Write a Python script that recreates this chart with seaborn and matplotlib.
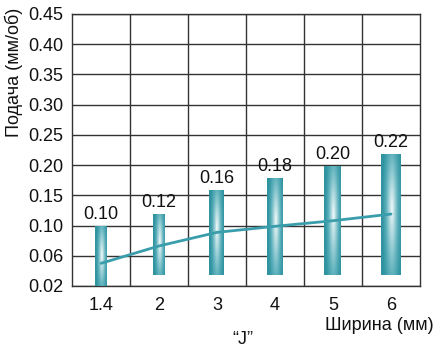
import numpy as np
import pandas as pd
import matplotlib
matplotlib.use("Agg")
import matplotlib.pyplot as plt
from matplotlib.colors import LinearSegmentedColormap
import seaborn as sns

# ---- data ----
widths_mm = ["1.4", "2", "3", "4", "5", "6"]
feed_max = [0.10, 0.12, 0.16, 0.18, 0.20, 0.22]
feed_min = [0.02, 0.035, 0.035, 0.035, 0.035, 0.035]
feed_recommended = [0.050, 0.073, 0.091, 0.099, 0.108, 0.119]
y_ticks = [0.02, 0.06, 0.10, 0.15, 0.20, 0.25, 0.30, 0.35, 0.40, 0.45]

# style (bar widths in category units)
bar_w = [0.22, 0.22, 0.26, 0.29, 0.31, 0.36]

sns.set_style("white")
plt.rcParams['font.family'] = ['Liberation Sans', 'DejaVu Sans']
FS = 13

fig = plt.figure(figsize=(4.37, 3.48), dpi=100)
ax = fig.add_axes([72/437, 1-286/348, (420-72)/437, (286-14)/348])

idx = np.arange(len(y_ticks), dtype=float)
tv = np.array(y_ticks)
def fwd(v):
    return np.interp(v, tv, idx)
def inv(p):
    return np.interp(p, idx, tv)
ax.set_yscale('function', functions=(fwd, inv))
ax.set_ylim(0.02, 0.45)
ax.set_xlim(-0.5, len(widths_mm) - 0.5)

xs = np.arange(len(widths_mm))
df = pd.DataFrame({"x": xs, "top": feed_max, "bot": feed_min, "rec": feed_recommended})

# gradient bars
cmap = LinearSegmentedColormap.from_list("tealgrad", ["#2f93a0", "#5cb0bb", "#a9d6dc", "#f2fafa"])
ny, nx = 200, 60
gy, gx = np.mgrid[-1:1:ny*1j, -1:1:nx*1j]
for x, t, b, w in zip(df["x"], df["top"], df["bot"], bar_w):
    r = np.sqrt(gx**2 + (gy*0.55)**2)
    val = np.clip(1 - r, 0, 1) ** 1.3
    ax.imshow(val, cmap=cmap, vmin=0, vmax=1, aspect='auto',
              extent=(x - w/2, x + w/2, b, t), origin='lower', zorder=3,
              interpolation='bilinear')
    ax.annotate(f"{t:.2f}", (x, t), xytext=(0, 1.5), textcoords='offset points',
                ha='center', va='bottom', fontsize=FS, color='#111', zorder=5)

sns.lineplot(data=df, x="x", y="rec", ax=ax, color="#3a9dab", linewidth=2,
             zorder=4, legend=False)

ax.set_xlim(-0.5, len(widths_mm) - 0.5)
ax.set_ylim(0.02, 0.45)
ax.set_yticks(y_ticks)
ax.set_yticklabels([f"{v:.2f}" for v in y_ticks])
ax.set_xticks(xs)
ax.set_xticklabels(widths_mm)
ax.set_xticks(xs[:-1] + 0.5, minor=True)
ax.tick_params(axis='both', which='both', length=0, labelsize=FS, colors='#111')
ax.tick_params(axis='y', pad=6)
ax.tick_params(axis='x', pad=8)
ax.grid(True, which='major', axis='y', color='#333333', linewidth=1.0, zorder=0)
ax.grid(True, which='minor', axis='x', color='#333333', linewidth=1.0, zorder=0)
ax.grid(False, which='major', axis='x')
for s in ax.spines.values():
    s.set_visible(True)
    s.set_color('#333333')
    s.set_linewidth(1.0)
ax.set_xlabel("")
ax.set_ylabel("")

fig.text(14/437, 1 - 72/348, "Подача (мм/об)", rotation=90, ha='center', va='center',
         fontsize=FS, color='#111')
fig.text(434/437, 1 - 326/348, "Ширина (мм)", ha='right', va='center',
         fontsize=FS, color='#111')
fig.text(243/437, 1 - 339/348, "“J”", ha='center', va='center',
         fontsize=FS, color='#111')

fig.savefig("out.png", dpi=100)
